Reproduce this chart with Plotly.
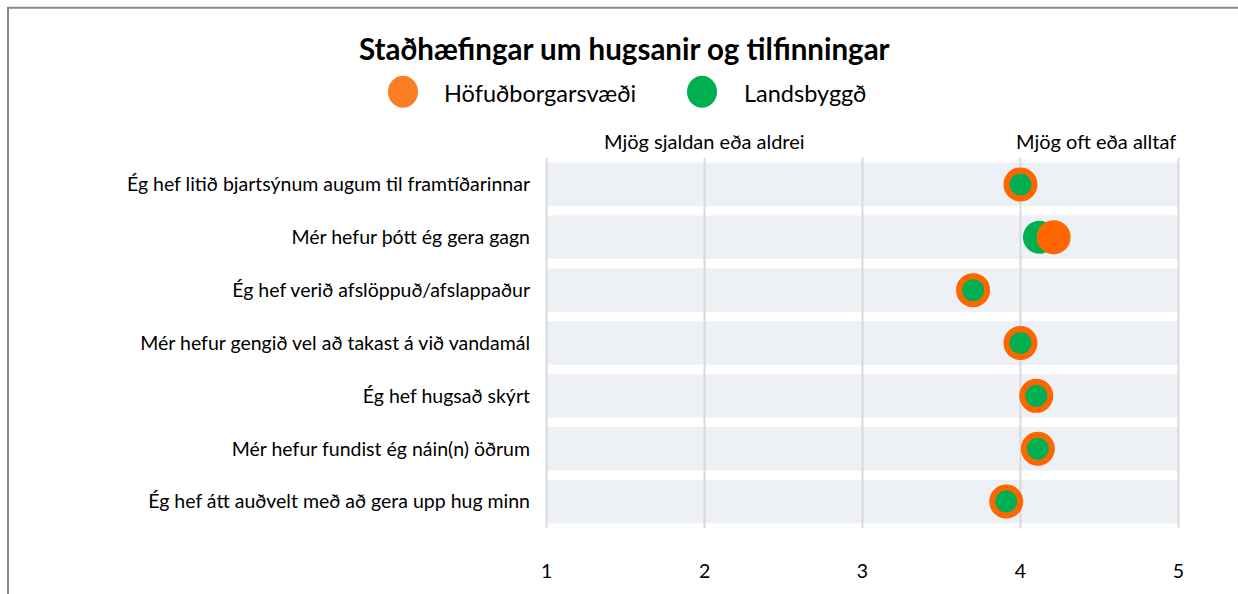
import plotly.graph_objects as go

# Survey statements (top to bottom) and mean scores on a 1-5 scale
statements = [
    "Ég hef litið bjartsýnum augum til framtíðarinnar",
    "Mér hefur þótt ég gera gagn",
    "Ég hef verið afslöppuð/afslappaður",
    "Mér hefur gengið vel að takast á við vandamál",
    "Ég hef hugsað skýrt",
    "Mér hefur fundist ég náin(n) öðrum",
    "Ég hef átt auðvelt með að gera upp hug minn",
]
hofudborgarsvaedi = [4.00, 4.21, 3.70, 4.00, 4.10, 4.11, 3.91]
landsbyggd = [4.00, 4.12, 3.70, 4.00, 4.10, 4.11, 3.91]

scale_ticks = [1, 2, 3, 4, 5]
scale_low_label = "Mjög sjaldan eða aldrei"
scale_high_label = "Mjög oft eða alltaf"
title_text = "Staðhæfingar um hugsanir og tilfinningar"
series_names = ["Höfuðborgarsvæði", "Landsbyggð"]

ORANGE = "#FF6600"
ORANGE_KEY = "#FB7D24"
GREEN = "#00B050"
BAND = "#EDF0F5"
GRID = "#D9D9D9"
FONT = "Lato"

W, H = 1238, 594
L, R, T, B = 545, 58, 158, 62
PW, PH = W - L - R, H - T - B


def px_x(px):
    return (px - L) / PW


def px_y(py):
    return (H - B - py) / PH


rows = list(range(len(statements)))
lo, hi = scale_ticks[0], scale_ticks[-1]

fig = go.Figure()

# background bands spanning the full scale for every statement
fig.add_trace(go.Bar(
    y=rows, x=[hi - lo] * len(rows), base=[lo] * len(rows),
    orientation="h", width=0.82, marker=dict(color=BAND, line=dict(width=0)),
    hoverinfo="skip", showlegend=False,
))

# vertical grid lines at each scale point, drawn over the bands
gx, gy = [], []
for t in scale_ticks:
    gx += [t, t, None]
    gy += [-0.5, len(rows) - 0.5, None]
fig.add_trace(go.Scatter(
    x=gx, y=gy, mode="lines", line=dict(color=GRID, width=2),
    hoverinfo="skip", showlegend=False,
))

# Landsbyggð: solid green dots
fig.add_trace(go.Scatter(
    x=landsbyggd, y=rows, mode="markers", name=series_names[1],
    marker=dict(size=33, color=GREEN, line=dict(width=0)),
    showlegend=False,
))

# Höfuðborgarsvæði: orange dots; shown as a ring where both groups coincide
ring_fill = [
    "rgba(0,0,0,0)" if abs(h - g) < 0.05 else ORANGE
    for h, g in zip(hofudborgarsvaedi, landsbyggd)
]
fig.add_trace(go.Scatter(
    x=hofudborgarsvaedi, y=rows, mode="markers", name=series_names[0],
    marker=dict(size=28, color=ring_fill, line=dict(width=6, color=ORANGE)),
    showlegend=False,
))

annotations = [
    dict(text=f"<b>{title_text}</b>", x=px_x(624), y=px_y(47),
         xref="paper", yref="paper", xanchor="center", yanchor="middle",
         showarrow=False, font=dict(family=FONT, size=29.5, color="#000000")),
    dict(text=scale_low_label, x=2, y=px_y(141), xref="x", yref="paper",
         xanchor="center", yanchor="middle", showarrow=False,
         font=dict(family=FONT, size=20, color="#000000")),
    dict(text=scale_high_label, x=5, y=px_y(141), xref="x", yref="paper",
         xanchor="right", yanchor="middle", showarrow=False,
         font=dict(family=FONT, size=20, color="#000000")),
]

shapes = [
    # outer chart frame
    dict(type="rect", xref="paper", yref="paper",
         x0=px_x(8), x1=px_x(W + 10), y0=px_y(H + 10), y1=px_y(6),
         line=dict(color="#898989", width=2), fillcolor="rgba(0,0,0,0)",
         layer="above"),
]

# custom legend with large round keys
legend_items = [(series_names[0], ORANGE_KEY, 403, 442),
                (series_names[1], GREEN, 702, 742)]
for name, col, cx, tx in legend_items:
    shapes.append(dict(
        type="circle", xref="paper", yref="paper",
        xsizemode="pixel", ysizemode="pixel",
        xanchor=px_x(cx), yanchor=px_y(91),
        x0=-15, x1=15, y0=-16, y1=16,
        fillcolor=col, line=dict(width=0),
    ))
    annotations.append(dict(
        text=name, x=px_x(tx), y=px_y(92), xref="paper", yref="paper",
        xanchor="left", yanchor="middle", showarrow=False,
        font=dict(family=FONT, size=23.5, color="#000000"),
    ))

fig.update_layout(
    width=W, height=H, autosize=False,
    margin=dict(l=L, r=R, t=T, b=B, pad=0),
    paper_bgcolor="white", plot_bgcolor="white",
    font=dict(family=FONT, size=19.5, color="#000000"),
    annotations=annotations, shapes=shapes,
    showlegend=False,
    xaxis=dict(
        range=[lo - 0.01, hi + 0.01], tickvals=scale_ticks,
        showgrid=False, zeroline=False, showline=False, ticks="",
        ticklabelstandoff=29, tickfont=dict(family=FONT, size=19.5, color="#000000"),
        fixedrange=True,
    ),
    yaxis=dict(
        range=[len(rows) - 0.5, -0.5], tickvals=rows, ticktext=statements,
        showgrid=False, zeroline=False, showline=False, ticks="",
        ticklabelstandoff=14, tickfont=dict(family=FONT, size=19.5, color="#000000"),
        fixedrange=True,
    ),
)

fig.write_html("out.html", config={"displayModeBar": False})
